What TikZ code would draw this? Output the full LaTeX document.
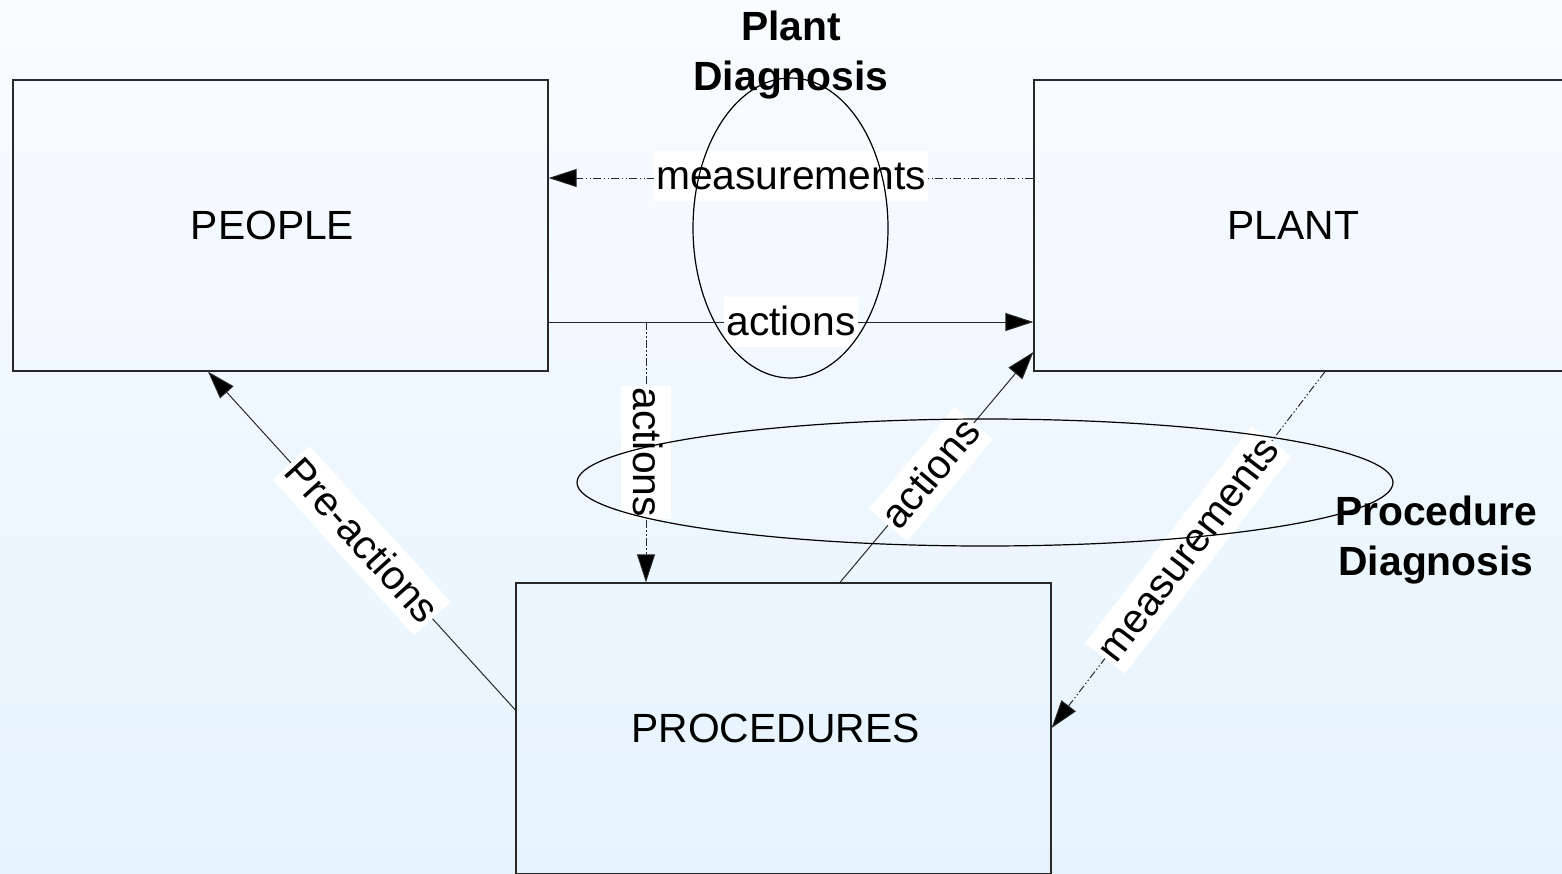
\documentclass[tikz,border=0pt]{standalone}
\usepackage{fontspec}
\setmainfont{Liberation Sans}
\usetikzlibrary{arrows.meta,shapes.geometric}
\definecolor{bgtop}{RGB}{248,252,255}
\definecolor{bgbot}{RGB}{230,243,254}
\definecolor{edge}{RGB}{40,40,40}
\begin{document}
\begin{tikzpicture}[x=0.5pt,y=-0.5pt,
  box/.style={draw=edge, line width=0.6pt, minimum width=267.5pt, minimum height=145.5pt, inner sep=0pt, font=\fontsize{20.4}{24}\selectfont},
  conn/.style={draw=edge, line width=0.5pt},
  dd/.style={dash pattern=on 4pt off 1.2pt on 0.7pt off 1.2pt on 0.7pt off 1.2pt},
  tip/.style={-{Triangle[length=14pt,width=9pt,fill=black]}},
  lbl/.style={fill=white, inner xsep=1pt, inner ysep=0pt, text height=19pt, text depth=6pt, font=\fontsize{20.4}{24}\selectfont},
  ring/.style={draw=black, line width=0.6pt, ellipse, inner sep=0pt},
  title/.style={align=center, font=\fontsize{20.4}{25}\selectfont\bfseries}
]
\useasboundingbox (0,0) rectangle (1562,873);
\fill[top color=bgtop, bottom color=bgbot] (0,0) rectangle (1562,873);

\node[box] (people) at (280.5,225.5) {PEOPLE\hspace*{8pt}};
\node[box] (plant) at (1301.5,225.5) {PLANT\hspace*{8pt}};
\node[box] (procedures) at (783.5,728.5) {PROCEDURES\hspace*{8pt}};

\draw[conn,dd,tip] (plant.west |- 0,178) -- node[lbl,yshift=1pt]{measurements} (people.east |- 0,178);
\draw[conn,tip] (people.east |- 0,322) -- node[lbl]{actions} (plant.west |- 0,322);
\coordinate (split) at (646,322);
\draw[conn,dd,tip] (split) -- node[lbl,rotate=-90]{actions} (split |- procedures.north);
\draw[conn,tip] (procedures.north -| 840,0) -- node[lbl,sloped,pos=0.47]{actions} (plant.west |- 0,352);
\draw[conn,dd,tip] (plant.south -| 1325,0) -- node[lbl,sloped,pos=0.5]{measurements} (procedures.east |- 0,728);
\draw[conn,tip] (procedures.west |- 0,710) -- node[lbl,sloped,pos=0.5]{Pre-actions} (people.south -| 208,0);

\node[ring, minimum width=97.5pt, minimum height=150pt] (plantdiag) at (790.5,228) {};
\node[ring, minimum width=408pt, minimum height=63.5pt] (procdiag) at (985,482.5) {};

\node[title] (plantdiagt) at (791,55) {Plant\\Diagnosis};
\node[title] (procdiagt) at (1436,540) {Procedure\\Diagnosis};
\end{tikzpicture}
\end{document}
